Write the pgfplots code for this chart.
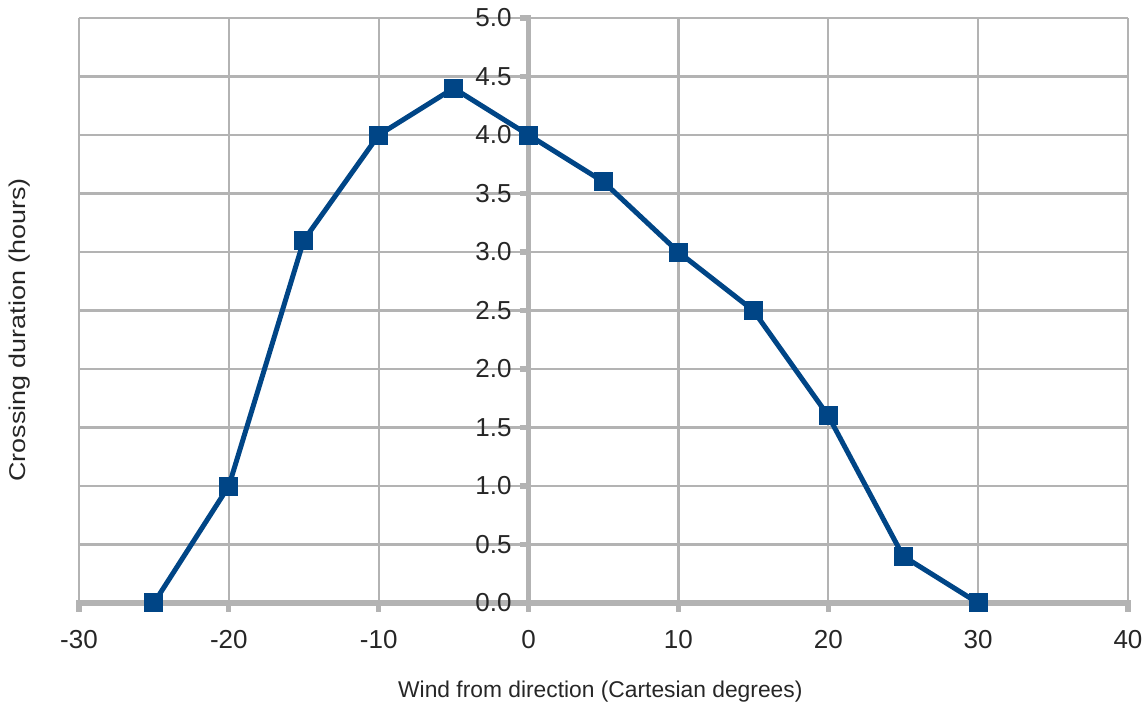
\documentclass[border=0pt]{standalone}
\usepackage{pgfplots}
\pgfplotsset{compat=1.18}
\usepackage{fontspec}
\setmainfont{Liberation Sans}
\definecolor{lineblue}{HTML}{004586}
\definecolor{gridgray}{HTML}{B3B3B3}
\begin{document}
\begin{tikzpicture}[x=1pt,y=1pt]
\begin{axis}[
  scale only axis,
  width=524.5pt, height=292.5pt,
  xmin=-30, xmax=40, ymin=0, ymax=5,
  axis lines=middle,
  axis line style={-, gridgray, line width=2.6pt, line cap=rect},
  hide obscured x ticks=false, hide obscured y ticks=false,
  xtick={-30,-20,...,40},
  ytick={0,0.5,...,5},
  grid=major,
  major grid style={gridgray, line width=1.1pt},
  tick align=outside,
  major tick length=4.5pt,
  tick style={gridgray, line width=2.6pt},
  /pgf/number format/assume math mode=true,
  ticklabel style={font=\fontsize{13}{15}\selectfont, text=black!85},
  yticklabel style={/pgf/number format/fixed, /pgf/number format/fixed zerofill, /pgf/number format/precision=1, xshift=-0.5pt},
  xticklabel style={yshift=-5.5pt},
  xlabel={Wind from direction (Cartesian degrees)},
  ylabel={\scalebox{1.18}[1]{Crossing duration (hours)}},
  xlabel style={at={(axis description cs:0.497,-0.152)}, anchor=center, font=\fontsize{11.4}{13}\selectfont, text=black!85},
  ylabel style={at={(axis description cs:-0.057,0.467)}, anchor=center, rotate=90, font=\fontsize{11.4}{13}\selectfont, text=black!85},
  clip=false,
]
\addplot[lineblue, line width=2.5pt, mark=square*, mark size=4.5pt, mark options={solid, fill=lineblue, draw=lineblue, line width=0pt}] coordinates {
  (-25,0) (-20,1) (-15,3.1) (-10,4) (-5,4.4) (0,4) (5,3.6) (10,3) (15,2.5) (20,1.6) (25,0.4) (30,0)
};
\coordinate (bl) at (axis description cs:-0.0753,-0.1829);
\coordinate (tr) at (axis description cs:1.0153,1.0308);
\end{axis}
\pgfresetboundingbox
\path[use as bounding box] (bl) rectangle (tr);
\end{tikzpicture}
\end{document}
